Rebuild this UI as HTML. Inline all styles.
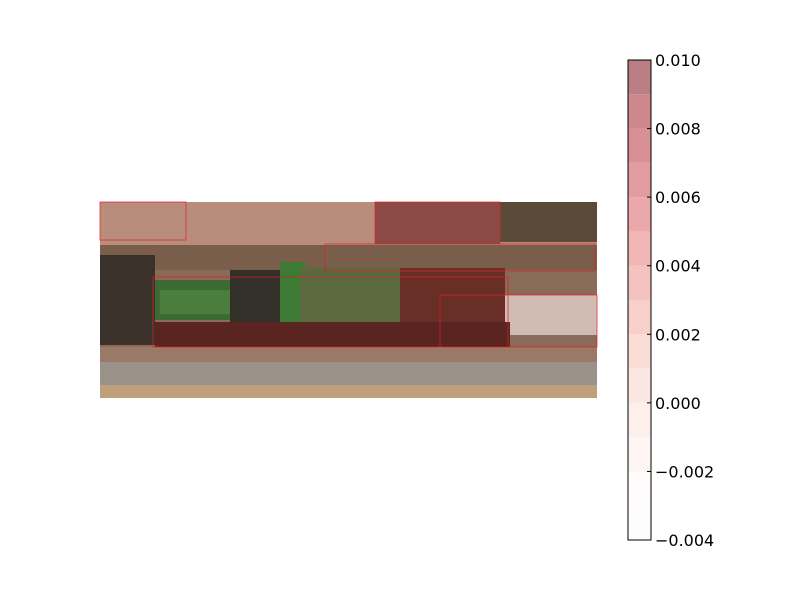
<!DOCTYPE html>
<html><head><meta charset="utf-8"><style>
body{margin:0;background:#fff;width:800px;height:600px;overflow:hidden;font-family:"DejaVu Sans","Liberation Sans",sans-serif}
</style></head><body>
<svg width="800" height="600">
<g>
 <rect x="100" y="202" width="497" height="196" fill="#8a6a58"/>
 <rect x="100" y="202" width="497" height="43" fill="#b98d7c"/>
 <rect x="375" y="202" width="125" height="42" fill="#8c4a46"/>
 <rect x="500" y="202" width="97" height="40" fill="#5a4a3a"/>
 <rect x="100" y="245" width="497" height="25" fill="#7a5e4c"/>
 <rect x="100" y="255" width="55" height="90" fill="#3a322a"/>
 <rect x="155" y="280" width="120" height="40" fill="#3c6a34"/>
 <rect x="160" y="290" width="95" height="24" fill="#4a7e3c"/>
 <rect x="230" y="270" width="70" height="55" fill="#33302a"/>
 <rect x="280" y="262" width="25" height="60" fill="#3d7a34"/>
 <rect x="300" y="268" width="205" height="55" fill="#5a6a3e"/>
 <rect x="400" y="268" width="105" height="55" fill="#6a2e28"/>
 <rect x="505" y="295" width="92" height="40" fill="#d0bcb2"/>
 <rect x="155" y="322" width="355" height="25" fill="#5a2420"/>
 <rect x="100" y="347" width="497" height="20" fill="#9a7a66"/>
 <rect x="100" y="362" width="497" height="30" fill="#9a9288"/>
 <rect x="100" y="385" width="497" height="13" fill="#c0a07a"/>
 <g fill="none" stroke="#e02020" stroke-width="1" opacity="0.7">
  <rect x="100" y="202" width="86" height="38"/>
  <rect x="375" y="202" width="125" height="42"/>
  <rect x="325" y="244" width="270" height="27"/>
  <rect x="153" y="277" width="355" height="70"/>
  <rect x="440" y="295" width="157" height="52"/>
 </g>
</g>
<g id="cb"></g>
<rect x="628" y="60" width="23" height="480" fill="none" stroke="#000" stroke-width="1"/>
<g id="ticks" font-size="16" fill="#000"></g>
</svg>
<script>
const levels=[-0.004,-0.003,-0.002,-0.001,0,0.001,0.002,0.003,0.004,0.005,0.006,0.007,0.008,0.009];
const bandColors=["#fefdfd","#fefbfa","#fdf6f4","#fcefec","#fbe6e2","#fadcd7","#f8d0ca","#f5c3bf","#f2b6b4","#eba8aa","#e29ba0","#d88f95","#cd878d","#b97f85"];
const tickLabels=["\u22120.004","\u22120.002","0.000","0.002","0.004","0.006","0.008","0.010"];
const tickValues=[-0.004,-0.002,0,0.002,0.004,0.006,0.008,0.010];
const vmin=-0.004,vmax=0.010,y0=540,y1=60;
const ys=v=>y0-(v-vmin)/(vmax-vmin)*(y0-y1);
const ns="http://www.w3.org/2000/svg";
const cb=document.getElementById('cb');
levels.forEach((l,i)=>{
 const r=document.createElementNS(ns,'rect');
 
 
 r.setAttribute('x',628);r.setAttribute('width',23);
 r.setAttribute('y',ys(l+0.001));r.setAttribute('height',ys(l)-ys(l+0.001));
 r.setAttribute('fill',bandColors[i]);cb.appendChild(r);
});
const tg=document.getElementById('ticks');
tickValues.forEach((v,i)=>{
 const y=ys(v);
 const ln=document.createElementNS(ns,'line');
 
 
 ln.setAttribute('x1',647);ln.setAttribute('x2',651);ln.setAttribute('y1',y);ln.setAttribute('y2',y);
 ln.setAttribute('stroke','#000');tg.appendChild(ln);
 const t=document.createElementNS(ns,'text');
 
 
 t.setAttribute('x',655);t.setAttribute('y',y+6);t.textContent=tickLabels[i];tg.appendChild(t);
});
</script>
</body></html>
